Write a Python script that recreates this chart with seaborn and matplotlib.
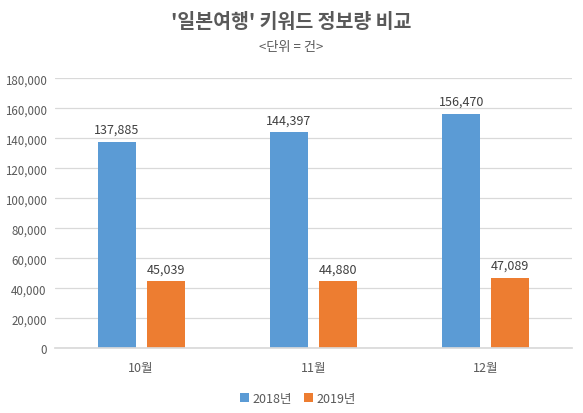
import matplotlib
matplotlib.use("Agg")
import matplotlib.pyplot as plt
import seaborn as sns
import pandas as pd
from matplotlib.ticker import FuncFormatter

months = ["10월", "11월", "12월"]
years = ["2018년", "2019년"]
counts_2018 = [137885, 144397, 156470]
counts_2019 = [45039, 44880, 47089]

df = pd.DataFrame({
    "월": months * 2,
    "연도": [years[0]] * 3 + [years[1]] * 3,
    "건수": counts_2018 + counts_2019,
})

sns.set_theme(style="white")
plt.rcParams["font.family"] = ["Noto Sans CJK KR", "DejaVu Sans"]

fig = plt.figure(figsize=(5.83, 4.14), dpi=100)
ax = fig.add_axes([0.0943, 0.1563, 0.8868, 0.652])

text_col = "#595959"
sns.barplot(data=df, x="월", y="건수", hue="연도", ax=ax,
            palette=["#5B9BD5", "#ED7D31"], width=0.57, gap=0.224,
            errorbar=None, saturation=1, linewidth=0, legend=True)

for c in ax.containers:
    ax.bar_label(c, labels=[f"{v:,.0f}" for v in c.datavalues],
                 padding=4, fontsize=9, color="#404040")

ax.set_ylim(0, 180000)
ax.set_yticks(range(0, 180001, 20000))
ax.yaxis.set_major_formatter(FuncFormatter(lambda v, p: f"{v:,.0f}"))
ax.grid(axis="y", color="#D9D9D9", linewidth=0.9)
ax.set_axisbelow(True)
for s in ["top", "right", "left"]:
    ax.spines[s].set_visible(False)
ax.spines["bottom"].set_color("#D9D9D9")
ax.tick_params(axis="both", length=0, colors=text_col)
ax.tick_params(axis="y", pad=6, labelsize=8.3)
ax.tick_params(axis="x", pad=9, labelsize=9)
ax.set_xlabel("")
ax.set_ylabel("")

ax.legend(loc="upper center", bbox_to_anchor=(0.47, -0.12), ncol=2,
          frameon=False, fontsize=9, handlelength=0.7, handleheight=0.7,
          handletextpad=0.3, columnspacing=1.0, labelcolor=text_col)

fig.text(0.5, 0.945, "'일본여행' 키워드 정보량 비교", ha="center", va="center",
         fontsize=14, fontweight="bold", color=text_col)
fig.text(0.5, 0.885, "<단위 = 건>", ha="center", va="center",
         fontsize=9.5, color=text_col)

fig.savefig("out.png", dpi=100)
